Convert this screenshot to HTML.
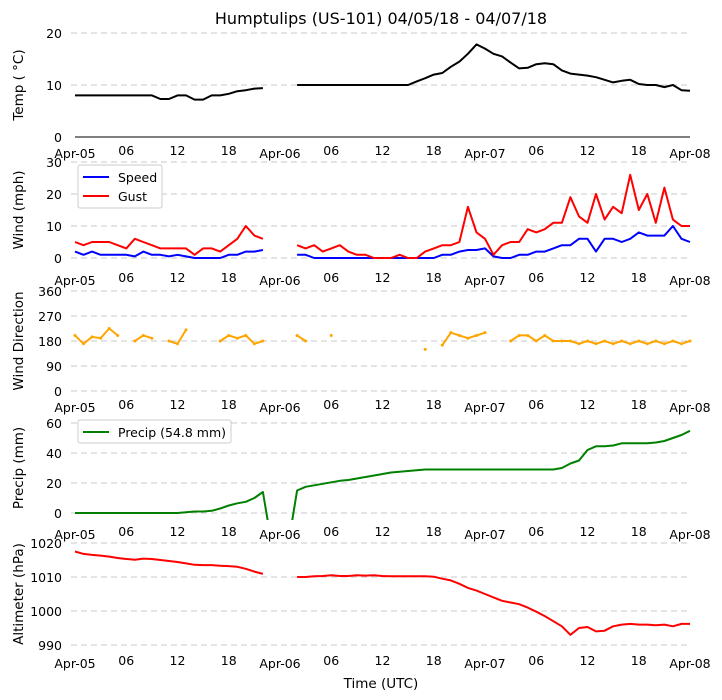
<!DOCTYPE html>
<html><head><meta charset="utf-8"><style>
body{margin:0;background:#fff;}
svg{display:block;font-family:"DejaVu Sans","Liberation Sans",sans-serif;}
</style></head><body>
<svg id="chart" width="722" height="700" viewBox="0 0 722 700" xmlns="http://www.w3.org/2000/svg">
<defs><clipPath id="pclip"><rect x="60" y="415" width="640" height="105"/></clipPath></defs>
<text x="381" y="24" font-size="16" text-anchor="middle">Humptulips (US-101) 04/05/18 - 04/07/18</text>
<text x="381" y="688" font-size="13.5" text-anchor="middle">Time (UTC)</text>
</svg>
<script>
// data: hourly values from Apr-05 00 UTC (h=0) to Apr-08 00 UTC (h=72)
const xTickLabels = ["Apr-05","06","12","18","Apr-06","06","12","18","Apr-07","06","12","18","Apr-08"];
const tempC = [8,8,8,8,8,8,8,8,8,8,7.3,7.3,8,8,7.2,7.2,8,8,8.3,8.8,9,9.3,9.4,null,null,null,
10,10,10,10,10,10,10,10,10,10,10,10,10,10,10.7,11.3,12,12.3,13.5,14.5,16,17.8,17,16,15.5,14.3,13.2,13.3,14,14.2,14,12.8,12.2,12,11.8,11.5,11,10.5,10.8,11,10.2,10,10,9.6,10,9,8.9];
const windSpeed = [2,1,2,1,1,1,1,0.5,2,1,1,0.5,1,0.5,0,0,0,0,1,1,2,2,2.5,null,null,null,
1,1,0,0,0,0,0,0,0,0,0,0,0,0,0,0,0,1,1,2,2.5,2.5,3,0.5,0,0,1,1,2,2,3,4,4,6,6,2,6,6,5,6,8,7,7,7,10,6,5];
const windGust = [5,4,5,5,5,4,3,6,5,4,3,3,3,3,1,3,3,2,4,6,10,7,6,null,null,null,
4,3,4,2,3,4,2,1,1,0,0,0,1,0,0,2,3,4,4,5,16,8,6,1,4,5,5,9,8,9,11,11,19,13,11,20,12,16,14,26,15,20,11,22,12,10,10];
const windDir = [200,170,195,190,225,200,null,180,200,190,null,180,170,220,null,null,null,180,200,190,200,170,180,null,null,null,
200,180,null,null,200,null,null,null,null,null,null,null,null,null,null,150,null,165,210,200,190,200,210,null,null,180,200,200,180,200,180,180,180,170,180,170,180,170,180,170,180,170,180,170,180,170,180];
const precip = [0,0,0,0,0,0,0,0,0,0,0,0,0,0.5,1,1,1.5,3,5,6.5,7.5,10,14,-20,-20,-20,
15,17.5,18.5,19.5,20.5,21.5,22,23,24,25,26,27,27.5,28,28.5,29,29,29,29,29,29,29,29,29,29,29,29,29,29,29,29,30,33,35,42,44.5,44.5,45,46.5,46.5,46.5,46.5,47,48,50,52,54.8];
const altimeter = [1017.5,1016.8,1016.5,1016.3,1016,1015.6,1015.3,1015.1,1015.4,1015.3,1015,1014.7,1014.4,1014,1013.6,1013.5,1013.5,1013.3,1013.2,1013,1012.4,1011.6,1010.9,null,null,null,
1010,1010,1010.2,1010.3,1010.5,1010.3,1010.3,1010.5,1010.4,1010.5,1010.3,1010.2,1010.2,1010.2,1010.2,1010.2,1010.1,
1009.5,1009,1008,1006.8,1006,1005,1004,1003,1002.5,1002,1001,999.8,998.5,997,995.5,993,
995,995.3,994,994.2,995.5,996,996.2,996,996,995.8,996,995.5,996.2,996.2];
const tempTicks=[0,10,20], windTicks=[0,10,20,30], dirTicks=[0,90,180,270,360], precipTicks=[0,20,40,60], altTicks=[990,1000,1010,1020];

const NS="http://www.w3.org/2000/svg";
const svg=document.getElementById('chart');
function mk(t,a){const e=document.createElementNS(NS,t);for(const k in a)e.setAttribute(k,a[k]);return e;}
const X0=75,X1=690;
function xScale(h){return X0+(X1-X0)*h/72;}
function yScaleFactory(v0,v1,p0,p1){return v=>p0+(v-v0)*(p1-p0)/(v1-v0);}

const panels=[
 {name:'temp',ticks:tempTicks,y:yScaleFactory(0,20,137,33),title:'Temp ( °C)',labY:155,spine:true},
 {name:'wind',ticks:windTicks,y:yScaleFactory(0,30,258,162),title:'Wind (mph)',labY:282},
 {name:'wind-direction',ticks:dirTicks,y:yScaleFactory(0,360,391,291),title:'Wind Direction',labY:409},
 {name:'precip',ticks:precipTicks,y:yScaleFactory(0,60,513,423),title:'Precip (mm)',labY:536},
 {name:'altimeter',ticks:altTicks,y:yScaleFactory(990,1020,645,543),title:'Altimeter (hPa)',labY:665}
];
panels.forEach(p=>{
  p.ticks.forEach((t,i)=>{
    const yy=p.y(t);
    if(!(p.spine&&i===0)){
      const g=mk('line',{x1:71,x2:690,y1:yy,y2:yy,stroke:'#c8c8c8','stroke-width':1,'stroke-dasharray':'6,4'});
      
      
      svg.appendChild(g);
    }
    const tl=mk('text',{x:62,y:yy+5,'font-size':12.5,'text-anchor':'end'});
    tl.textContent=t;
    
    
    svg.appendChild(tl);
  });
  if(p.spine){
    const s=mk('line',{x1:75,x2:690,y1:p.y(0),y2:p.y(0),stroke:'#000','stroke-width':1});
    
    
    svg.appendChild(s);
  }
  const mid=(p.y(p.ticks[0])+p.y(p.ticks[p.ticks.length-1]))/2;
  const yt=mk('text',{x:0,y:0,'font-size':13.5,'text-anchor':'middle',transform:`translate(23,${mid}) rotate(-90)`});
  yt.textContent=p.title;
  
  
  svg.appendChild(yt);
  xTickLabels.forEach((l,i)=>{
    const isDay=l.startsWith('Apr');
    const xl=mk('text',{x:xScale(i*6),y:p.labY+(isDay?3:0),'font-size':12.5,'text-anchor':'middle'});
    xl.textContent=l;
    
    
    svg.appendChild(xl);
  });
});

function drawSeries(arr,yf,color,name,clip,dots){
  let d='',pen=false;
  arr.forEach((v,h)=>{
    if(v===null){pen=false;return;}
    d+=(pen?'L':'M')+xScale(h).toFixed(1)+','+yf(v).toFixed(1);
    pen=true;
  });
  const path=mk('path',{d:d,fill:'none',stroke:color,'stroke-width':2,'stroke-linejoin':'round'});
  if(clip)path.setAttribute('clip-path','url(#pclip)');
  
  
  svg.appendChild(path);
  if(dots){
    arr.forEach((v,h)=>{
      if(v===null)return;
      const c=mk('circle',{cx:xScale(h),cy:yf(v),r:1.5,fill:color});
      
      
      svg.appendChild(c);
    });
  }
}
drawSeries(tempC,panels[0].y,'#000','temperature-line');
drawSeries(windSpeed,panels[1].y,'#0000ff','wind-speed-line');
drawSeries(windGust,panels[1].y,'#ff0000','wind-gust-line');
drawSeries(windDir,panels[2].y,'#ffa500','wind-direction-line',false,true);
drawSeries(precip,panels[3].y,'#008000','precip-line',true);
drawSeries(altimeter,panels[4].y,'#ff0000','altimeter-line');

function legend(x,y,w,h,items,name){
  const g=mk('g',{});
  
  
  g.appendChild(mk('rect',{x:x,y:y,width:w,height:h,fill:'#fff',stroke:'#ccc','stroke-width':1,rx:2}));
  items.forEach((it,i)=>{
    const yy=y+12+i*19;
    g.appendChild(mk('line',{x1:x+5,x2:x+31,y1:yy,y2:yy,stroke:it.c,'stroke-width':2}));
    const t=mk('text',{x:x+40,y:yy+5,'font-size':12.5});
    t.textContent=it.l;
    g.appendChild(t);
  });
  svg.appendChild(g);
}
legend(78,165,84,43,[{l:'Speed',c:'#0000ff'},{l:'Gust',c:'#ff0000'}],'wind-legend');
legend(78,420,153,23,[{l:'Precip (54.8 mm)',c:'#008000'}],'precip-legend');
</script>
</body></html>
